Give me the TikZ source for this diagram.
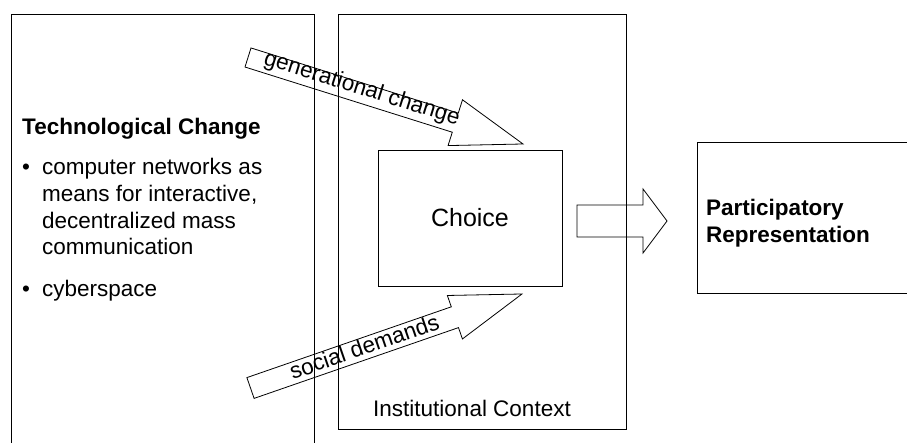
\documentclass[tikz,border=0pt]{standalone}
\usepackage{fontspec}
\setmainfont{Liberation Sans}
\begin{document}
\begin{tikzpicture}[x=1pt,y=1pt,
  ln/.style={draw=black,line width=0.9pt},
  txt/.style={font=\fontsize{22.5}{27}\selectfont,inner sep=0pt},
  btxt/.style={font=\fontsize{22.5}{27}\selectfont\bfseries,inner sep=0pt},
  blk/.style={draw=black,line width=0.8pt,line join=miter}]
\useasboundingbox (0,0) rectangle (907,443);
% left box (open at bottom)
\draw[ln] (11,0) -- (11,429) -- (314,429) -- (314,0);
\node[btxt,anchor=base west] (tech) at (22,308.7) {Technological Change};
\node[txt,anchor=base west] (bul1) at (22,268) {•};
\node[txt,anchor=base west] (l1) at (42,268) {computer networks as};
\node[txt,anchor=base west] (l2) at (42,241.3) {means for interactive,};
\node[txt,anchor=base west] (l3) at (42,214.7) {decentralized mass};
\node[txt,anchor=base west] (l4) at (42,188) {communication};
\node[txt,anchor=base west] (bul2) at (22,146.3) {•};
\node[txt,anchor=base west] (l5) at (42,146.3) {cyberspace};
% institutional context box
\node[ln,minimum width=288,minimum height=415,inner sep=0pt] (inst) at (482,221.5) {};
\node[txt,anchor=base west] (instl) at (373,26.3) {Institutional Context};
% choice
\node[ln,minimum width=184,minimum height=136,inner sep=0pt,font=\fontsize{25}{30}\selectfont] (choice) at (470,225) {Choice};
% participatory box (open at right)
\draw[ln] (907,301) -- (697,301) -- (697,150) -- (907,150);
\node[btxt,anchor=base west] (p1) at (706,227) {Participatory};
\node[btxt,anchor=base west] (p2) at (706,200) {Representation};
% right block arrow
\coordinate (ra) at (577,222);
\draw[blk] (ra) ++(0,16) -- ++(66,0) -- ++(0,16) -- ++(24,-32) -- ++(-24,-32) -- ++(0,16) -- ++(-66,0) -- cycle;
% generational change arrow
\begin{scope}[shift={(248,385.5)},rotate=-17.46]
\draw[blk] (0,10) -- (217.3,10) -- (217.3,24) -- (288.3,0) -- (217.3,-24) -- (217.3,-10) -- (0,-10) -- cycle;
\node[txt,rotate=-17.46] (gen) at (118,4) {generational change};
\end{scope}
% social demands arrow
\begin{scope}[shift={(250.5,55)},rotate=19.1]
\draw[blk] (0,11) -- (216.3,11) -- (216.3,23) -- (287.3,0) -- (216.3,-23) -- (216.3,-11) -- (0,-11) -- cycle;
\node[txt,rotate=19.1] (soc) at (121,2) {social demands};
\end{scope}
\end{tikzpicture}
\end{document}
